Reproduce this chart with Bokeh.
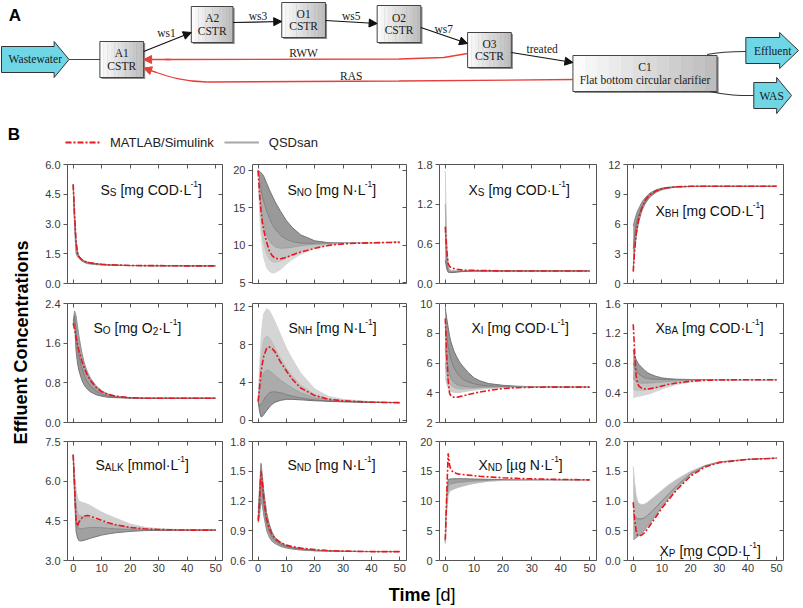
from bokeh.plotting import figure
from bokeh.layouts import column, row
from bokeh.models import (Range1d, LinearAxis, FixedTicker, PrintfTickFormatter,
                          Arrow, NormalHead, Legend, LegendItem)
from bokeh.core.properties import value
from bokeh.embed import file_html
from bokeh.resources import INLINE

# ------------------------------------------------------------------ data
T = [0, 0.5, 1, 1.5, 2, 3, 4, 5, 6, 8, 10, 12, 15, 20, 25, 30, 40, 50]
X_TICKS = [0, 10, 20, 30, 40, 50]

SS_RED = [5.0, 3.4, 2.1, 1.55, 1.35, 1.2, 1.12, 1.07, 1.04, 1.0, 0.97, 0.95, 0.93, 0.91, 0.9, 0.9, 0.89, 0.89]
SS_GRAY = [
    [5.0, 3.5, 2.2, 1.6, 1.4, 1.22, 1.13, 1.08, 1.05, 1.0, 0.97, 0.95, 0.93, 0.91, 0.9, 0.9, 0.89, 0.89],
    [4.95, 3.1, 1.8, 1.45, 1.32, 1.17, 1.09, 1.04, 1.01, 0.97, 0.95, 0.93, 0.92, 0.905, 0.9, 0.895, 0.89, 0.89],
    [4.9, 2.8, 1.5, 1.35, 1.27, 1.13, 1.05, 1.0, 0.98, 0.95, 0.93, 0.92, 0.91, 0.9, 0.9, 0.89, 0.89, 0.89],
]
SS_TICKS = [0, 1.5, 3.0, 4.5, 6.0]

SNO_RED = [20.0, 16.8, 14.6, 13.0, 12.0, 10.4, 9.2, 8.6, 8.25, 8.2, 8.4, 8.7, 9.1, 9.6, 10.0, 10.2, 10.35, 10.4]
SNO_GRAY = [
    [20.0, 19.9, 19.7, 19.5, 19.2, 18.3, 17.4, 16.6, 15.8, 14.5, 13.3, 12.4, 11.4, 10.6, 10.35, 10.3, 10.35, 10.4],
    [20.0, 18.5, 17.5, 16.5, 15.8, 14.6, 13.6, 12.8, 12.2, 11.3, 10.8, 10.5, 10.3, 10.25, 10.3, 10.3, 10.35, 10.4],
    [20.0, 17.0, 15.2, 13.8, 12.8, 11.4, 10.6, 10.1, 9.8, 9.6, 9.65, 9.75, 9.95, 10.15, 10.25, 10.3, 10.35, 10.4],
    [20.0, 15.5, 13.0, 11.3, 10.2, 8.8, 8.1, 7.8, 7.7, 7.9, 8.3, 8.7, 9.2, 9.8, 10.1, 10.25, 10.35, 10.4],
    [20.0, 14.5, 11.5, 9.5, 8.3, 7.0, 6.5, 6.3, 6.35, 6.8, 7.5, 8.1, 8.8, 9.6, 10.0, 10.2, 10.35, 10.4],
]
SNO_TICKS = [5, 10, 15, 20]

XS_RED = [0.86, 0.5, 0.3, 0.26, 0.24, 0.225, 0.215, 0.21, 0.205, 0.2, 0.2, 0.195, 0.195, 0.19, 0.19, 0.19, 0.19, 0.19]
XS_GRAY = [
    [1.7, 0.7, 0.28, 0.22, 0.2, 0.195, 0.195, 0.195, 0.195, 0.195, 0.195, 0.19, 0.19, 0.19, 0.19, 0.19, 0.19, 0.19],
    [1.2, 0.5, 0.24, 0.2, 0.19, 0.185, 0.185, 0.188, 0.19, 0.19, 0.19, 0.19, 0.19, 0.19, 0.19, 0.19, 0.19, 0.19],
    [0.8, 0.35, 0.2, 0.18, 0.175, 0.175, 0.178, 0.182, 0.185, 0.188, 0.19, 0.19, 0.19, 0.19, 0.19, 0.19, 0.19, 0.19],
    [0.35, 0.22, 0.17, 0.165, 0.165, 0.168, 0.172, 0.176, 0.18, 0.185, 0.188, 0.19, 0.19, 0.19, 0.19, 0.19, 0.19, 0.19],
]
XS_TICKS = [0, 0.6, 1.2, 1.8]

XBH_RED = [1.2, 3.4, 4.9, 5.9, 6.6, 7.6, 8.3, 8.7, 9.0, 9.35, 9.55, 9.65, 9.75, 9.8, 9.8, 9.8, 9.8, 9.8]
XBH_GRAY = [
    [5.8, 6.4, 6.9, 7.3, 7.6, 8.2, 8.6, 8.9, 9.15, 9.45, 9.62, 9.7, 9.76, 9.8, 9.8, 9.8, 9.8, 9.8],
    [3.5, 4.8, 5.8, 6.5, 7.0, 7.7, 8.2, 8.6, 8.9, 9.3, 9.52, 9.64, 9.74, 9.79, 9.8, 9.8, 9.8, 9.8],
    [1.5, 3.3, 4.7, 5.6, 6.3, 7.3, 7.95, 8.4, 8.75, 9.2, 9.45, 9.6, 9.72, 9.78, 9.8, 9.8, 9.8, 9.8],
]
XBH_TICKS = [0, 3, 6, 9, 12]

SO_RED = [2.0, 1.88, 1.72, 1.58, 1.45, 1.25, 1.08, 0.95, 0.85, 0.71, 0.62, 0.57, 0.53, 0.5, 0.49, 0.49, 0.49, 0.49]
SO_GRAY = [
    [2.05, 2.25, 2.15, 1.95, 1.75, 1.42, 1.18, 1.02, 0.9, 0.74, 0.64, 0.58, 0.53, 0.5, 0.49, 0.49, 0.49, 0.49],
    [2.0, 2.15, 1.85, 1.55, 1.35, 1.1, 0.93, 0.82, 0.74, 0.64, 0.57, 0.54, 0.51, 0.495, 0.49, 0.49, 0.49, 0.49],
    [1.95, 2.0, 1.45, 1.2, 1.05, 0.86, 0.74, 0.67, 0.62, 0.56, 0.53, 0.51, 0.5, 0.49, 0.49, 0.49, 0.49, 0.49],
]
SO_TICKS = [0, 0.8, 1.6, 2.4]

SNH_RED = [2.0, 3.5, 5.0, 6.0, 6.8, 7.6, 7.75, 7.55, 7.2, 6.1, 5.2, 4.35, 3.4, 2.6, 2.2, 2.05, 1.9, 1.85]
SNH_GRAY = [
    [2.0, 5.5, 8.5, 10.3, 11.3, 11.8, 11.6, 11.0, 10.4, 9.0, 7.6, 6.5, 5.0, 3.3, 2.5, 2.2, 1.95, 1.85],
    [2.0, 4.5, 6.5, 7.8, 8.5, 8.9, 8.7, 8.2, 7.6, 6.5, 5.5, 4.7, 3.7, 2.7, 2.25, 2.05, 1.9, 1.85],
    [2.0, 3.0, 4.0, 4.6, 5.0, 5.3, 5.2, 5.0, 4.7, 4.2, 3.8, 3.4, 2.9, 2.35, 2.1, 2.0, 1.9, 1.85],
    [2.0, 1.5, 1.6, 1.9, 2.2, 2.6, 2.9, 3.0, 3.0, 2.9, 2.7, 2.55, 2.35, 2.15, 2.0, 1.95, 1.88, 1.85],
    [2.0, 0.9, 0.35, 0.4, 0.6, 1.0, 1.4, 1.7, 1.9, 2.1, 2.2, 2.2, 2.15, 2.05, 2.0, 1.95, 1.88, 1.85],
]
SNH_TICKS = [0, 4, 8, 12]

XI_RED = [9.0, 6.5, 4.8, 3.95, 3.78, 3.7, 3.7, 3.74, 3.78, 3.88, 3.97, 4.05, 4.15, 4.28, 4.34, 4.37, 4.38, 4.38]
XI_GRAY = [
    [9.7, 9.0, 8.4, 7.8, 7.4, 6.8, 6.4, 6.05, 5.8, 5.35, 5.0, 4.8, 4.62, 4.5, 4.44, 4.41, 4.39, 4.38],
    [8.5, 7.8, 7.1, 6.6, 6.2, 5.7, 5.35, 5.1, 4.92, 4.72, 4.6, 4.52, 4.46, 4.42, 4.4, 4.39, 4.38, 4.38],
    [7.0, 6.2, 5.6, 5.2, 4.95, 4.7, 4.55, 4.48, 4.44, 4.4, 4.38, 4.38, 4.38, 4.38, 4.38, 4.38, 4.38, 4.38],
    [6.0, 5.3, 4.9, 4.65, 4.5, 4.35, 4.28, 4.26, 4.25, 4.27, 4.3, 4.32, 4.34, 4.36, 4.37, 4.38, 4.38, 4.38],
    [5.0, 4.6, 4.3, 4.15, 4.08, 4.02, 4.0, 4.02, 4.05, 4.12, 4.18, 4.23, 4.28, 4.33, 4.36, 4.37, 4.38, 4.38],
]
XI_TICKS = [2, 4, 6, 8, 10]

XBA_RED = [1.32, 0.95, 0.63, 0.53, 0.49, 0.46, 0.45, 0.45, 0.455, 0.47, 0.49, 0.51, 0.53, 0.555, 0.568, 0.572, 0.575, 0.575]
XBA_GRAY = [
    [0.98, 0.9, 0.85, 0.81, 0.78, 0.74, 0.7, 0.67, 0.65, 0.62, 0.6, 0.59, 0.582, 0.578, 0.576, 0.575, 0.575, 0.575],
    [0.8, 0.74, 0.7, 0.67, 0.65, 0.62, 0.6, 0.59, 0.585, 0.58, 0.578, 0.577, 0.576, 0.575, 0.575, 0.575, 0.575, 0.575],
    [0.6, 0.57, 0.55, 0.54, 0.535, 0.53, 0.53, 0.53, 0.532, 0.538, 0.545, 0.552, 0.56, 0.568, 0.572, 0.574, 0.575, 0.575],
    [0.45, 0.44, 0.43, 0.43, 0.43, 0.43, 0.435, 0.44, 0.45, 0.47, 0.49, 0.51, 0.535, 0.558, 0.568, 0.572, 0.575, 0.575],
    [0.33, 0.34, 0.345, 0.35, 0.355, 0.36, 0.37, 0.38, 0.39, 0.42, 0.45, 0.475, 0.51, 0.545, 0.562, 0.57, 0.574, 0.575],
]
XBA_TICKS = [0, 0.4, 0.8, 1.2, 1.6]

SALK_RED = [7.0, 5.8, 4.5, 4.3, 4.45, 4.6, 4.68, 4.7, 4.68, 4.6, 4.52, 4.44, 4.35, 4.25, 4.2, 4.17, 4.15, 4.15]
SALK_GRAY = [
    [7.0, 6.3, 5.7, 5.4, 5.25, 5.2, 5.17, 5.13, 5.08, 4.95, 4.83, 4.73, 4.6, 4.38, 4.26, 4.2, 4.16, 4.15],
    [7.0, 6.0, 5.1, 4.8, 4.7, 4.68, 4.66, 4.64, 4.6, 4.52, 4.45, 4.4, 4.33, 4.24, 4.19, 4.17, 4.15, 4.15],
    [7.0, 5.7, 4.6, 4.3, 4.2, 4.2, 4.22, 4.24, 4.25, 4.25, 4.24, 4.22, 4.2, 4.17, 4.16, 4.15, 4.15, 4.15],
    [7.0, 5.4, 4.1, 3.85, 3.75, 3.74, 3.77, 3.8, 3.84, 3.9, 3.96, 4.0, 4.05, 4.1, 4.13, 4.14, 4.15, 4.15],
]
SALK_TICKS = [3.0, 4.5, 6.0, 7.5]

SND_RED = [1.0, 1.2, 1.5, 1.38, 1.22, 1.02, 0.92, 0.86, 0.82, 0.78, 0.755, 0.74, 0.725, 0.71, 0.7, 0.695, 0.69, 0.69]
SND_GRAY = [
    [1.08, 1.35, 1.58, 1.45, 1.3, 1.08, 0.96, 0.88, 0.83, 0.78, 0.75, 0.735, 0.72, 0.705, 0.698, 0.694, 0.69, 0.69],
    [1.02, 1.2, 1.4, 1.3, 1.17, 0.98, 0.89, 0.83, 0.8, 0.76, 0.738, 0.725, 0.712, 0.7, 0.695, 0.692, 0.69, 0.69],
    [0.98, 1.05, 1.2, 1.15, 1.05, 0.9, 0.83, 0.79, 0.77, 0.74, 0.725, 0.715, 0.705, 0.697, 0.693, 0.691, 0.69, 0.69],
]
SND_TICKS = [0.6, 0.9, 1.2, 1.5, 1.8]

XND_RED = [3.5, 11.0, 18.0, 16.0, 15.2, 14.8, 14.6, 14.5, 14.45, 14.35, 14.25, 14.15, 14.05, 13.9, 13.8, 13.72, 13.62, 13.55]
XND_GRAY = [
    [3.2, 11.0, 13.6, 13.7, 13.7, 13.75, 13.75, 13.75, 13.75, 13.72, 13.7, 13.68, 13.65, 13.6, 13.58, 13.57, 13.56, 13.55],
    [3.0, 9.5, 12.5, 12.8, 12.9, 13.0, 13.1, 13.15, 13.2, 13.3, 13.35, 13.4, 13.45, 13.5, 13.52, 13.54, 13.55, 13.55],
    [2.8, 8.0, 11.0, 11.6, 11.8, 12.0, 12.2, 12.35, 12.5, 12.75, 12.95, 13.1, 13.3, 13.45, 13.5, 13.53, 13.55, 13.55],
]
XND_TICKS = [0, 5, 10, 15, 20]

XP_RED = [0.98, 0.68, 0.5, 0.42, 0.41, 0.43, 0.47, 0.53, 0.6, 0.74, 0.88, 1.0, 1.18, 1.42, 1.57, 1.645, 1.7, 1.72]
XP_GRAY = [
    [1.58, 1.3, 1.1, 1.0, 0.96, 0.94, 0.95, 0.98, 1.02, 1.1, 1.18, 1.26, 1.36, 1.5, 1.6, 1.66, 1.7, 1.72],
    [0.8, 0.75, 0.72, 0.7, 0.7, 0.7, 0.72, 0.76, 0.8, 0.9, 1.0, 1.1, 1.25, 1.46, 1.59, 1.655, 1.7, 1.72],
    [0.35, 0.36, 0.38, 0.4, 0.42, 0.46, 0.51, 0.57, 0.63, 0.77, 0.9, 1.02, 1.2, 1.44, 1.58, 1.65, 1.7, 1.72],
]
XP_TICKS = [0, 0.5, 1.0, 1.5, 2.0]

TITLE_SEGS = [
    [("S", "n"), ("S", "b"), (" [mg COD·L", "n"), ("-1", "p"), ("]", "n")],
    [("S", "n"), ("NO", "b"), (" [mg N·L", "n"), ("-1", "p"), ("]", "n")],
    [("X", "n"), ("S", "b"), (" [mg COD·L", "n"), ("-1", "p"), ("]", "n")],
    [("X", "n"), ("BH", "b"), (" [mg COD·L", "n"), ("-1", "p"), ("]", "n")],
    [("S", "n"), ("O", "b"), (" [mg O", "n"), ("2", "b"), ("·L", "n"), ("-1", "p"), ("]", "n")],
    [("S", "n"), ("NH", "b"), (" [mg N·L", "n"), ("-1", "p"), ("]", "n")],
    [("X", "n"), ("I", "b"), (" [mg COD·L", "n"), ("-1", "p"), ("]", "n")],
    [("X", "n"), ("BA", "b"), (" [mg COD·L", "n"), ("-1", "p"), ("]", "n")],
    [("S", "n"), ("ALK", "b"), (" [mmol·L", "n"), ("-1", "p"), ("]", "n")],
    [("S", "n"), ("ND", "b"), (" [mg N·L", "n"), ("-1", "p"), ("]", "n")],
    [("X", "n"), ("ND", "b"), (" [µg N·L", "n"), ("-1", "p"), ("]", "n")],
    [("X", "n"), ("P", "b"), (" [mg COD·L", "n"), ("-1", "p"), ("]", "n")],
]

LEGEND_LABELS = ["MATLAB/Simulink", "QSDsan"]
Y_TITLE = "Effluent Concentrations"
X_TITLE_BOLD = "Time"
X_TITLE_UNIT = "[d]"

# diagram content
BOX_NAMES = ["A1", "A2", "O1", "O2", "O3", "C1"]
BOX_KIND = ["CSTR", "CSTR", "CSTR", "CSTR", "CSTR", "Flat bottom circular clarifier"]
STREAM_LABELS = ["ws1", "ws3", "ws5", "ws7", "treated"]
RECYCLE_LABELS = ["RWW", "RAS"]
TERMINAL_LABELS = ["Wastewater", "Effluent", "WAS"]

# ------------------------------------------------------------------ layout / style
PANEL_RED = [SS_RED, SNO_RED, XS_RED, XBH_RED, SO_RED, SNH_RED, XI_RED, XBA_RED,
             SALK_RED, SND_RED, XND_RED, XP_RED]
PANEL_GRAY = [SS_GRAY, SNO_GRAY, XS_GRAY, XBH_GRAY, SO_GRAY, SNH_GRAY, XI_GRAY, XBA_GRAY,
              SALK_GRAY, SND_GRAY, XND_GRAY, XP_GRAY]
PANEL_TICKS = [SS_TICKS, SNO_TICKS, XS_TICKS, XBH_TICKS, SO_TICKS, SNH_TICKS, XI_TICKS, XBA_TICKS,
               SALK_TICKS, SND_TICKS, XND_TICKS, XP_TICKS]
Y_RANGES = [(0, 6), (4.9, 20.8), (0, 1.8), (0, 12), (0, 2.4), (-0.25, 12.35), (2, 10), (0, 1.6),
            (3, 7.5), (0.6, 1.8), (0, 20), (0, 2)]
Y_FMT = ["%.1f", "%d", "%.1f", "%d", "%.1f", "%d", "%d", "%.1f", "%.1f", "%.1f", "%d", "%.1f"]
GRAY_SHADES = [
    ["#6e6e6e", "#7c7c7c", "#8c8c8c"],
    ["#6a6a6a", "#7a7a7a", "#9a9a9a", "#c0c0c0", "#d6d6d6"],
    ["#cccccc", "#a4a4a4", "#808080", "#6a6a6a"],
    ["#7a7a7a", "#6e6e6e", "#808080"],
    ["#8a8a8a", "#777777", "#6a6a6a"],
    ["#d2d2d2", "#b8b8b8", "#9a9a9a", "#7a7a7a", "#666666"],
    ["#6a6a6a", "#777777", "#8a8a8a", "#aaaaaa", "#cccccc"],
    ["#6a6a6a", "#7c7c7c", "#999999", "#bbbbbb", "#d2d2d2"],
    ["#cfcfcf", "#a8a8a8", "#888888", "#6e6e6e"],
    ["#7a7a7a", "#707070", "#888888"],
    ["#6e6e6e", "#8c8c8c", "#bdbdbd"],
    ["#cccccc", "#7a7a7a", "#9a9a9a"],
]
# (left px, baseline px from frame top)
TITLE_POS = [(33, 25), (35, 25), (29, 25), (28, 46), (26, 24), (36, 24), (32, 24), (28, 24),
             (28, 23), (35, 23), (39, 23), (32, 109)]

FONT = "Liberation Sans"
SERIF = "Liberation Serif"
FRAME = "#555555"
TICK_TXT = "#3a3a3a"
RED = "#e8171e"
FLOW_RED = "#e5403c"
COL_FW = [155, 154, 157, 156]
FH = 119
X_RANGE = (-2.0, 52.4)
COL_LEFT = [30, 28, 31, 29]
COL_RIGHT = 2
ROW_TOP = [10, 10, 9]
ROW_BOTTOM = [10, 10, 20]
TOTAL_W = 800

CW = {' ': .278, '[': .278, ']': .278, 'm': .833, 'g': .556, 'C': .722, 'O': .778, 'D': .722,
      '·': .278, 'L': .556, '-': .333, '1': .556, '2': .556, 'N': .722, 'µ': .556, 'o': .556,
      'l': .222, 'A': .667, 'K': .667, 'B': .667, 'H': .722, 'I': .278, 'P': .667, 'S': .667,
      'X': .667}
SEG_SIZE = {"n": 14, "b": 10, "p": 8.5}
SEG_DY = {"n": 0, "b": 3.0, "p": -5.5}


def hexmix(c1, c2, f):
    a = [int(c1[i:i + 2], 16) for i in (1, 3, 5)]
    b = [int(c2[i:i + 2], 16) for i in (1, 3, 5)]
    return "#%02x%02x%02x" % tuple(round(a[k] + (b[k] - a[k]) * f) for k in range(3))


def base_fig(**kw):
    p = figure(output_backend="svg", toolbar_location=None, x_axis_location=None,
               y_axis_location=None, **kw)
    p.grid.visible = False
    p.background_fill_color = "white"
    p.border_fill_color = "white"
    return p


def style_axis(ax, labels, t_in, t_out):
    ax.axis_line_color = None
    ax.major_tick_line_color = FRAME
    ax.major_tick_line_width = 1
    ax.major_tick_in = t_in
    ax.major_tick_out = t_out
    ax.minor_tick_line_color = None
    ax.major_label_text_font = FONT
    if labels:
        ax.major_label_text_font_size = "11px"
        ax.major_label_text_color = TICK_TXT
        ax.major_label_standoff = 3
    else:
        ax.major_label_text_font_size = "0px"
        ax.major_label_text_color = None
        ax.major_label_standoff = 0


def add_title(p, segs, left_px, base_px, fw, x0, x1, y0, y1):
    sx = (x1 - x0) / fw
    sy = (y1 - y0) / FH
    cur = left_px
    for txt, kind in segs:
        size = SEG_SIZE[kind]
        while txt.startswith(" "):
            cur += CW[' '] * size
            txt = txt[1:]
        p.text(x=[x0 + cur * sx], y=[y1 - (base_px + SEG_DY[kind]) * sy], text=[txt],
               text_font=value(FONT), text_font_size=f"{size}px", text_align="left",
               text_baseline="alphabetic", text_color="#111111")
        cur += sum(CW.get(ch, 0.556) for ch in txt) * size


def make_panel(i):
    r, c = divmod(i, 4)
    L, R, FW = COL_LEFT[c], COL_RIGHT, COL_FW[c]
    Tp, Bp = ROW_TOP[r], ROW_BOTTOM[r]
    ylo, yhi = Y_RANGES[i]
    p = base_fig(width=L + FW + R, height=Tp + FH + Bp,
                 x_range=Range1d(*X_RANGE), y_range=Range1d(ylo, yhi),
                 min_border_left=L, min_border_right=R, min_border_top=Tp, min_border_bottom=Bp)
    p.outline_line_color = FRAME
    p.outline_line_width = 1

    left = LinearAxis(ticker=FixedTicker(ticks=PANEL_TICKS[i]),
                      formatter=PrintfTickFormatter(format=Y_FMT[i]))
    style_axis(left, True, 0, 4)
    p.add_layout(left, "left")
    right = LinearAxis(ticker=FixedTicker(ticks=PANEL_TICKS[i]))
    style_axis(right, False, 4, 0)
    p.add_layout(right, "right")
    below = LinearAxis(ticker=FixedTicker(ticks=X_TICKS), formatter=PrintfTickFormatter(format="%d"))
    style_axis(below, r == 2, 4, 0)
    p.add_layout(below, "below")
    above = LinearAxis(ticker=FixedTicker(ticks=X_TICKS))
    style_axis(above, False, 4, 0)
    p.add_layout(above, "above")

    grays = PANEL_GRAY[i]
    shades = GRAY_SHADES[i]
    for k in range(len(grays) - 1):
        p.varea(x=T, y1=grays[k], y2=grays[k + 1],
                fill_color=hexmix(shades[k], shades[k + 1], 0.5), fill_alpha=0.72)
    for k, g in enumerate(grays):
        p.line(T, g, line_color=shades[k], line_width=0.9)
    p.line(T, PANEL_RED[i], line_color=RED, line_width=1.6, line_dash="6 2 2 2")

    add_title(p, TITLE_SEGS[i], TITLE_POS[i][0], TITLE_POS[i][1], FW, X_RANGE[0], X_RANGE[1], ylo, yhi)
    return p


# ------------------------------------------------------------------ panel A (diagram)
DG_H = 120
dg = base_fig(width=TOTAL_W, height=DG_H, x_range=Range1d(-1, 804), y_range=Range1d(120, 0),
              min_border=0)
dg.outline_line_color = None

BOX_X0 = [99, 191, 282, 378, 469, 575]
BOX_X1 = [143, 233, 326, 422, 513, 720]
BOX_Y0 = [41, 6, 2, 5, 32, 55]
BOX_Y1 = [77, 42, 37, 42, 67, 91]
NSTRIP = 12
for b in range(len(BOX_NAMES)):
    x0, x1, y0, y1 = BOX_X0[b], BOX_X1[b], BOX_Y0[b], BOX_Y1[b]
    dg.quad(left=[x0 + 1.6], right=[x1 + 1.6], top=[y0 + 1.6], bottom=[y1 + 1.6],
            fill_color="#8a8a8a", line_color=None)
    w = (x1 - x0) / NSTRIP
    lefts = [x0 + k * w for k in range(NSTRIP)]
    rights = [x0 + (k + 1) * w + 0.3 for k in range(NSTRIP)]
    cols = [hexmix("#fbfbfb", "#bdbdbd", k / (NSTRIP - 1)) for k in range(NSTRIP)]
    dg.quad(left=lefts, right=rights, top=[y0] * NSTRIP, bottom=[y1] * NSTRIP,
            fill_color=cols, line_color=None)
    dg.quad(left=[x0], right=[x1], top=[y0], bottom=[y1], fill_color=None,
            line_color="#444444", line_width=1)
    yc = (y0 + y1) / 2
    dg.text(x=[(x0 + x1) / 2] * 2, y=[yc - 6.3, yc + 6.3], text=[BOX_NAMES[b], BOX_KIND[b]],
            text_font=value(SERIF), text_font_size="11.5px", text_align="center",
            text_baseline="middle", text_color="#1a1a1a")

# cyan terminal arrows
TERM_XS = [[0, 53, 53, 68, 53, 53, 0],
           [749, 783, 783, 802, 783, 783, 749],
           [757, 780, 780, 795, 780, 780, 757]]
TERM_YS = [[46, 46, 41, 59, 77, 72, 72],
           [37, 37, 32, 50, 68, 63, 63],
           [82, 82, 77, 95, 113, 108, 108]]
dg.patches(xs=TERM_XS, ys=TERM_YS, fill_color="#6fd6e6", line_color="#333333", line_width=1)
dg.text(x=[34, 776, 775], y=[58.5, 50, 95], text=TERMINAL_LABELS, text_font=value(SERIF),
        text_font_size="11.5px", text_align="center", text_baseline="middle", text_color="#1a1a1a")

# connectors
dg.line(x=[68, 99], y=[59, 59], line_color="#444444", line_width=1.2)
dg.bezier(x0=[710, 713], y0=[54, 91], x1=[749, 757], y1=[51, 95],
          cx0=[725, 730], cy0=[51, 95], cx1=[735, 742], cy1=[51, 95],
          line_color="#333333", line_width=1.2)

FLOW_START = [(143, 51), (233, 22), (326, 20), (422, 27), (513, 52)]
FLOW_END = [(191, 32), (282, 21), (378, 23), (469, 43), (575, 62)]
for (xs_, ys_), (xe_, ye_) in zip(FLOW_START, FLOW_END):
    dg.add_layout(Arrow(x_start=xs_, y_start=ys_, x_end=xe_, y_end=ye_, line_color="#111111",
                        line_width=1.2,
                        end=NormalHead(size=8, fill_color="#111111", line_color="#111111")))
dg.text(x=[166, 258, 352, 445, 544], y=[32, 15, 15, 28, 48], text=STREAM_LABELS,
        text_font=value(SERIF), text_font_size="11.5px", text_align="center",
        text_baseline="middle", text_color="#1a1a1a")

# recycles
dg.line(x=[469, 445, 400, 165], y=[53, 57, 58.5, 59], line_color=FLOW_RED, line_width=1.3)
dg.add_layout(Arrow(x_start=170, y_start=59, x_end=143, y_end=59, line_color=FLOW_RED,
                    line_width=1.3, end=NormalHead(size=8, fill_color=FLOW_RED, line_color=FLOW_RED)))
dg.line(x=[575, 400, 207], y=[79, 80.5, 81.5], line_color=FLOW_RED, line_width=1.3)
dg.bezier(x0=[207], y0=[81.5], x1=[150], y1=[70], cx0=[182], cy0=[81.5], cx1=[165], cy1=[75],
          line_color=FLOW_RED, line_width=1.3)
dg.add_layout(Arrow(x_start=156, y_start=72, x_end=143, y_end=67.5, line_color=FLOW_RED,
                    line_width=1.3, end=NormalHead(size=8, fill_color=FLOW_RED, line_color=FLOW_RED)))
dg.text(x=[304, 352], y=[52, 75], text=RECYCLE_LABELS, text_font=value(SERIF),
        text_font_size="11.5px", text_align="center", text_baseline="middle", text_color="#1a1a1a")

dg.text(x=[13.5], y=[14.5], text=["A"], text_font=value(FONT), text_font_style="bold",
        text_font_size="17px", text_align="center", text_baseline="middle", text_color="#000000")

# ------------------------------------------------------------------ legend row (B)
LG_H = 34
lgf = base_fig(width=TOTAL_W, height=LG_H, x_range=Range1d(0, TOTAL_W), y_range=Range1d(0, LG_H),
               min_border=0)
lgf.outline_line_color = None
lgf.text(x=[13.5], y=[LG_H - 14], text=["B"], text_font=value(FONT), text_font_style="bold",
         text_font_size="17px", text_align="center", text_baseline="middle", text_color="#000000")
NAN = float("nan")
r_red = lgf.line(x=[NAN], y=[NAN], line_color=RED, line_width=1.8, line_dash="6 2 2 2")
r_gray = lgf.line(x=[NAN], y=[NAN], line_color="#a8a8a8", line_width=2)
legend = Legend(items=[LegendItem(label=LEGEND_LABELS[0], renderers=[r_red]),
                       LegendItem(label=LEGEND_LABELS[1], renderers=[r_gray])],
                orientation="horizontal", location=(65, LG_H - 22 - 8), glyph_width=35,
                glyph_height=16, label_height=16, label_standoff=10, spacing=10, padding=0,
                margin=0, border_line_color=None, background_fill_alpha=0,
                label_text_font=FONT, label_text_font_size="13px", label_text_color="#222222")
lgf.add_layout(legend)

# ------------------------------------------------------------------ grid
panels = [make_panel(i) for i in range(12)]
grid = column(*[row(*panels[r * 4:(r + 1) * 4]) for r in range(3)])
GRID_H = sum(ROW_TOP) + sum(ROW_BOTTOM) + 3 * FH

YL_W = 37
ylf = base_fig(width=YL_W, height=GRID_H, x_range=Range1d(0, YL_W), y_range=Range1d(0, GRID_H),
               min_border=0)
ylf.outline_line_color = None
ylf.text(x=[21], y=[GRID_H - 188], text=[Y_TITLE], angle=1.5707963, text_font=value(FONT),
         text_font_style="bold", text_font_size="18px", text_align="center",
         text_baseline="middle", text_color="#000000")

TL_H = 27
tlf = base_fig(width=TOTAL_W, height=TL_H, x_range=Range1d(0, TOTAL_W), y_range=Range1d(0, TL_H),
               min_border=0)
tlf.outline_line_color = None
tlf.text(x=[430], y=[13], text=[X_TITLE_BOLD], text_font=value(FONT), text_font_style="bold",
         text_font_size="18px", text_align="right", text_baseline="middle", text_color="#000000")
tlf.text(x=[435], y=[13], text=[X_TITLE_UNIT], text_font=value(FONT),
         text_font_size="18px", text_align="left", text_baseline="middle", text_color="#000000")

layout = column(dg, lgf, row(ylf, grid), tlf)

open("out.html", "w").write(file_html(layout, INLINE))
